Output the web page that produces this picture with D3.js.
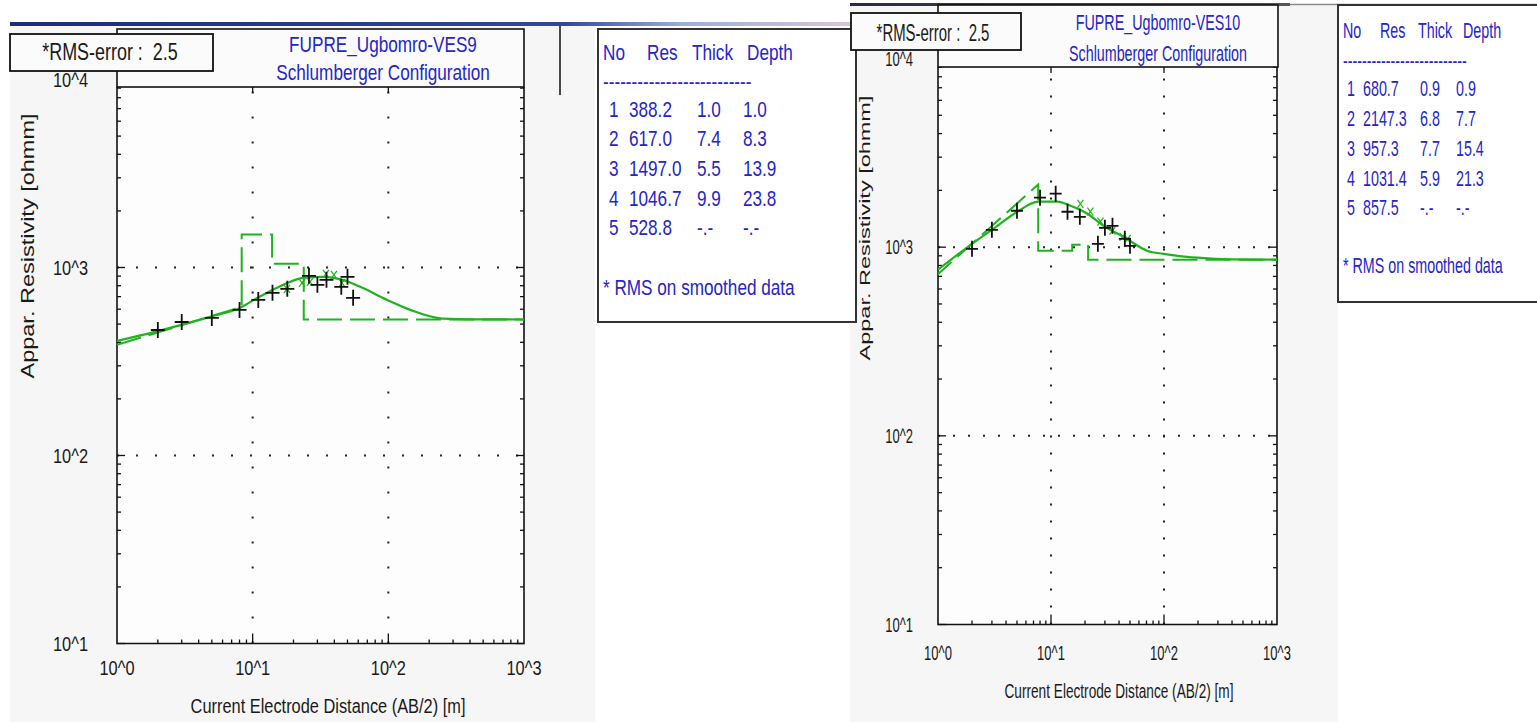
<!DOCTYPE html>
<html>
<head>
<meta charset="utf-8">
<script src="https://cdn.jsdelivr.net/npm/d3@7"></script>
<style>
  body { margin: 0; background: #fff; }
  svg { display: block; }
  text { font-family: "Liberation Sans", Arial, sans-serif; white-space: pre; }
</style>
</head>
<body>
<svg id="chart" width="1537" height="722"></svg>
<script>
// ---- VES9 (left sounding) ----
const ves9Title = ["FUPRE_Ugbomro-VES9", "Schlumberger Configuration"];
const ves9Rms = "2.5";
const ves9AB = [2, 3, 5, 8, 11, 14, 18, 26, 30, 35, 45, 50, 55];
const ves9Rho = [465, 513, 539, 595, 672, 733, 770, 903, 809, 860, 789, 892, 690];
const ves9SmoothAB = [17.9, 23.1, 26.5, 34.7, 39.7, 45.5];
const ves9SmoothRho = [770, 828, 839, 925, 914, 828];
const ves9CurveAB = [1, 2, 4.85, 8, 10.8, 14, 18, 23.5, 33, 46, 62, 98, 145, 250, 450, 1000];
const ves9CurveRho = [407, 459, 546, 608, 689, 760, 828, 881, 892, 859, 789, 672, 595, 535, 530, 529];
const ves9No = ["1", "2", "3", "4", "5"];
const ves9Res = ["388.2", "617.0", "1497.0", "1046.7", "528.8"];
const ves9Thick = ["1.0", "7.4", "5.5", "9.9", "-.-"];
const ves9Depth = ["1.0", "8.3", "13.9", "23.8", "-.-"];

// ---- VES10 (right sounding) ----
const ves10Title = ["FUPRE_Ugbomro-VES10", "Schlumberger Configuration"];
const ves10Rms = "2.5";
const ves10AB = [2, 3, 5, 8, 11, 14, 18, 26, 30, 35, 45, 50];
const ves10Rho = [980, 1236, 1560, 1829, 1920, 1541, 1449, 1042, 1267, 1298, 1107, 1016];
const ves10SmoothAB = [18.2, 22.3, 27.4, 35, 43, 47.6];
const ves10SmoothRho = [1698, 1541, 1365, 1222, 1135, 1107];
const ves10CurveAB = [1, 2, 3.08, 5.03, 7.7, 11.4, 14.9, 21, 29.2, 43.8, 71.6, 99, 133, 198, 400, 1000];
const ves10CurveRho = [760, 1042, 1251, 1541, 1742, 1742, 1656, 1503, 1298, 1135, 955, 922, 900, 880, 862, 858];
const ves10No = ["1", "2", "3", "4", "5"];
const ves10Res = ["680.7", "2147.3", "957.3", "1031.4", "857.5"];
const ves10Thick = ["0.9", "6.8", "7.7", "5.9", "-.-"];
const ves10Depth = ["0.9", "7.7", "15.4", "21.3", "-.-"];

// ---- shared axis text ----
const xTickExp = [0, 1, 2, 3];
const yTickExp = [1, 2, 3, 4];
const tableHeader = ["No", "Res", "Thick", "Depth"];
const xTitle = "Current Electrode Distance (AB/2) [m]";
const yTitle = "Appar. Resistivity [ohmm]";
const footNote = "* RMS on smoothed data";

const GREEN = "#1fb41f", BLUE = "#2525c8", INK = "#1a1a1a";

const svg = d3.select("#chart");

// top strips of the two screenshots
const defs = svg.append("defs");
const grad = defs.append("linearGradient").attr("id", "barL");
grad.append("stop").attr("offset", "0").attr("stop-color", "#1d2b78");
grad.append("stop").attr("offset", "0.66").attr("stop-color", "#34479c");
grad.append("stop").attr("offset", "0.8").attr("stop-color", "#9fb0dc");
grad.append("stop").attr("offset", "1").attr("stop-color", "#d8c6d6");
const grad2 = defs.append("linearGradient").attr("id", "barR");
grad2.append("stop").attr("offset", "0").attr("stop-color", "#2a2a44");
grad2.append("stop").attr("offset", "1").attr("stop-color", "#55555f");

svg.append("rect").attr("x", 10).attr("y", 26).attr("width", 585).attr("height", 696).attr("fill", "#f6f6f6");
svg.append("rect").attr("x", 850).attr("y", 6).attr("width", 488).attr("height", 716).attr("fill", "#f6f6f6");
svg.append("rect").attr("x", 10).attr("y", 22).attr("width", 842).attr("height", 4).attr("fill", "url(#barL)");
svg.append("rect").attr("x", 850).attr("y", 3).attr("width", 440).attr("height", 3).attr("fill", "url(#barR)");
svg.append("line").attr("x1", 1290).attr("x2", 1537).attr("y1", 4.5).attr("y2", 4.5).attr("stroke", "#888").attr("stroke-width", 1.5);

function label(g, x, y, str, size, sx, opts) {
  opts = opts || {};
  return g.append("text")
    .attr("transform", `translate(${x},${y}) scale(${sx},1)`)
    .attr("dy", "0.35em")
    .attr("text-anchor", opts.anchor || "start")
    .attr("font-size", size)
    .attr("fill", opts.fill || INK)
    .text(str);
}

function drawPanel(L, d) {
  const g = svg.append("g");
  const x = d3.scaleLog().domain([1, 1000]).range([L.x0, L.x1]);
  const y = d3.scaleLog().domain([10, 10000]).range([L.yBottom, L.yTop]);
  const left = x(1), right = x(1000), bottom = y(10), top = L.frameTop;

  g.append("rect").attr("x", left).attr("y", top).attr("width", right - left).attr("height", bottom - top)
    .attr("fill", "#fdfdfd");

  const clipId = "clip" + L.id;
  defs.append("clipPath").attr("id", clipId).append("rect")
    .attr("x", left).attr("y", top).attr("width", right - left).attr("height", bottom - top);

  // dotted grid
  [2, 3].forEach(e => {
    g.append("line").attr("x1", left).attr("x2", right).attr("y1", y(10 ** e)).attr("y2", y(10 ** e))
      .attr("stroke", "#222").attr("stroke-width", 2).attr("stroke-dasharray", `2,${L.dotH - 2}`);
  });
  [1, 2].forEach(e => {
    g.append("line").attr("x1", x(10 ** e)).attr("x2", x(10 ** e)).attr("y1", bottom).attr("y2", top)
      .attr("stroke", "#222").attr("stroke-width", 2).attr("stroke-dasharray", `2,${L.dotV - 2}`);
  });

  // ticks on all sides
  const ticks = g.append("g").attr("stroke", "#111").attr("stroke-width", 1.3);
  xTickExp.forEach(e => {
    if (e > 0 && e < 3) {
      ticks.append("line").attr("x1", x(10 ** e)).attr("x2", x(10 ** e)).attr("y1", bottom).attr("y2", bottom - 10);
      ticks.append("line").attr("x1", x(10 ** e)).attr("x2", x(10 ** e)).attr("y1", top).attr("y2", top + 6);
    }
    if (e < 3) d3.range(2, 10).forEach(k => {
      const v = k * 10 ** e;
      ticks.append("line").attr("x1", x(v)).attr("x2", x(v)).attr("y1", bottom).attr("y2", bottom - 4);
    });
  });
  yTickExp.forEach(e => {
    if (e < 4) {
      [[left, 8], [right, -8]].forEach(([px, len]) => {
        ticks.append("line").attr("x1", px).attr("x2", px + len).attr("y1", y(10 ** e)).attr("y2", y(10 ** e));
      });
      d3.range(2, 10).forEach(k => {
        const py = y(k * 10 ** e);
        if (py < top) return;
        [[left, 4], [right, -4]].forEach(([px, len]) => {
          ticks.append("line").attr("x1", px).attr("x2", px + len).attr("y1", py).attr("y2", py);
        });
      });
    }
  });

  // frame
  g.append("path").attr("d", `M${left},${top}V${bottom}H${right}V${top}`)
    .attr("fill", "none").attr("stroke", "#111").attr("stroke-width", 1.6);

  const plot = g.append("g").attr("clip-path", `url(#${clipId})`);

  // layered model (dashed)
  const res = d.res.map(Number), dep = d.depth.slice(0, 4).map(Number);
  const model = [[dep[0], res[0]], [dep[1], res[1]], [dep[1], res[2]], [dep[2], res[2]],
    [dep[2], res[3]], [dep[3], res[3]], [dep[3], res[4]], [1000, res[4]]];
  plot.append("path")
    .attr("d", d3.line().x(p => x(p[0])).y(p => y(p[1]))(model))
    .attr("fill", "none").attr("stroke", GREEN).attr("stroke-width", 2).attr("stroke-dasharray", "25,8");

  // model curve
  plot.append("path")
    .attr("d", d3.line().curve(d3.curveMonotoneX).x((v, i) => x(d.curveAB[i])).y((v, i) => y(d.curveRho[i]))(d.curveRho))
    .attr("fill", "none").attr("stroke", GREEN).attr("stroke-width", 2.2);

  // smoothed data (green x)
  plot.selectAll(".sm").data(d.smoothRho).enter().append("path")
    .attr("transform", (v, i) => `translate(${x(d.smoothAB[i])},${y(v)})`)
    .attr("d", "M-3,-4L3,4M-3,4L3,-4")
    .attr("stroke", GREEN).attr("stroke-width", 1.2).attr("fill", "none");

  // field data (black +)
  const [cw, ch] = L.cross;
  plot.selectAll(".pt").data(d.rho).enter().append("path")
    .attr("transform", (v, i) => `translate(${x(d.ab[i])},${y(v)})`)
    .attr("d", `M${-cw},0H${cw}M0,${-ch}V${ch}`)
    .attr("stroke", "#111").attr("stroke-width", 1.8).attr("fill", "none");

  // tick labels
  xTickExp.forEach(e => label(g, x(10 ** e), L.xLabelY, "10^" + e, L.tickSize, L.sx, { anchor: "middle" }));
  yTickExp.forEach(e => label(g, L.labelRight, y(10 ** e), "10^" + e, L.tickSize, L.sx, { anchor: "end" }));

  label(g, L.xTitle[0], L.xTitle[1], xTitle, 21, L.sx, { anchor: "middle" });
  g.append("text")
    .attr("transform", `translate(${L.yTitle[0]},${L.yTitle[1]}) rotate(-90) scale(1,${L.sx})`)
    .attr("dy", "0.35em").attr("text-anchor", "middle").attr("font-size", 23.5).attr("fill", INK)
    .text(yTitle);

  // title box
  const tb = L.titleBox;
  g.append("rect").attr("x", tb[0]).attr("y", tb[1]).attr("width", tb[2] - tb[0]).attr("height", tb[3] - tb[1])
    .attr("fill", "#fbfbfb").attr("stroke", "#111").attr("stroke-width", 1.6);
  d.title.forEach((t, i) => label(g, L.titleX, L.titleY[i], t, 22, L.sx, { anchor: "middle", fill: BLUE }));
  if (L.sideLine) {
    g.append("line").attr("x1", L.sideLine[0]).attr("x2", L.sideLine[0]).attr("y1", L.sideLine[1]).attr("y2", L.sideLine[2])
      .attr("stroke", "#111").attr("stroke-width", 1.5);
  }

  // RMS box
  const rb = L.rmsBox;
  g.append("rect").attr("x", rb[0]).attr("y", rb[1]).attr("width", rb[2] - rb[0]).attr("height", rb[3] - rb[1])
    .attr("fill", "#fbfbfb").attr("stroke", "#111").attr("stroke-width", 1.8);
  label(g, L.rmsText[0], L.rmsText[1], "*RMS-error :  " + d.rms, 23, L.sx, { anchor: "middle" });

  // layer table
  const T = L.table;
  g.append("rect").attr("x", T.box[0]).attr("y", T.box[1]).attr("width", T.box[2] - T.box[0]).attr("height", T.box[3] - T.box[1])
    .attr("fill", "#fff").attr("stroke", "#333").attr("stroke-width", 2);
  tableHeader.forEach((h, i) => label(g, T.headerX[i], T.headerY, h, 22, L.sx, { fill: BLUE }));
  label(g, T.sep[0], T.sep[1], "-".repeat(26), 22, L.sx, { fill: BLUE });
  const cols = [d.no, d.res, d.thick, d.depth];
  T.rowsY.forEach((ry, r) => {
    cols.forEach((col, c) => label(g, T.cols[c], ry, col[r], 22, L.sx, { fill: BLUE }));
  });
  label(g, T.foot[0], T.foot[1], footNote, 22, L.sx, { fill: BLUE });
}

drawPanel({
  id: "L", x0: 117, x1: 524, yTop: 79.5, yBottom: 643.5, frameTop: 87, sx: 0.78, tickSize: 21,
  labelRight: 88, xLabelY: 668, xTitle: [328, 706], yTitle: [28, 246],
  titleBox: [117, 29, 524, 87], titleX: 383, titleY: [44, 72], sideLine: [560, 26, 95],
  rmsBox: [10, 34, 213, 71], rmsText: [110, 52], dotH: 19, dotV: 25, cross: [7, 8],
  table: { box: [598, 29, 856, 322], headerY: 52, headerX: [603, 647, 692, 747], sep: [603, 81],
    rowsY: [109, 138, 168, 198, 227], cols: [609, 629, 697, 743], foot: [603, 287] }
}, { title: ves9Title, rms: ves9Rms, ab: ves9AB, rho: ves9Rho, smoothAB: ves9SmoothAB, smoothRho: ves9SmoothRho,
  curveAB: ves9CurveAB, curveRho: ves9CurveRho, no: ves9No, res: ves9Res, thick: ves9Thick, depth: ves9Depth });

drawPanel({
  id: "R", x0: 938, x1: 1277, yTop: 58.5, yBottom: 624.5, frameTop: 67, sx: 0.65, tickSize: 20,
  labelRight: 913, xLabelY: 653, xTitle: [1119, 691], yTitle: [865, 228],
  titleBox: [938, 5, 1278, 67], titleX: 1158, titleY: [22, 53],
  rmsBox: [851, 13, 1021, 50], rmsText: [933, 33], dotH: 15, dotV: 17, cross: [6, 8],
  table: { box: [1338, 5, 1545, 302], headerY: 30, headerX: [1343, 1380, 1418, 1463], sep: [1343, 60],
    rowsY: [88, 118, 148, 178, 207], cols: [1347, 1363, 1420, 1456], foot: [1343, 265] }
}, { title: ves10Title, rms: ves10Rms, ab: ves10AB, rho: ves10Rho, smoothAB: ves10SmoothAB, smoothRho: ves10SmoothRho,
  curveAB: ves10CurveAB, curveRho: ves10CurveRho, no: ves10No, res: ves10Res, thick: ves10Thick, depth: ves10Depth });
</script>
</body>
</html>
